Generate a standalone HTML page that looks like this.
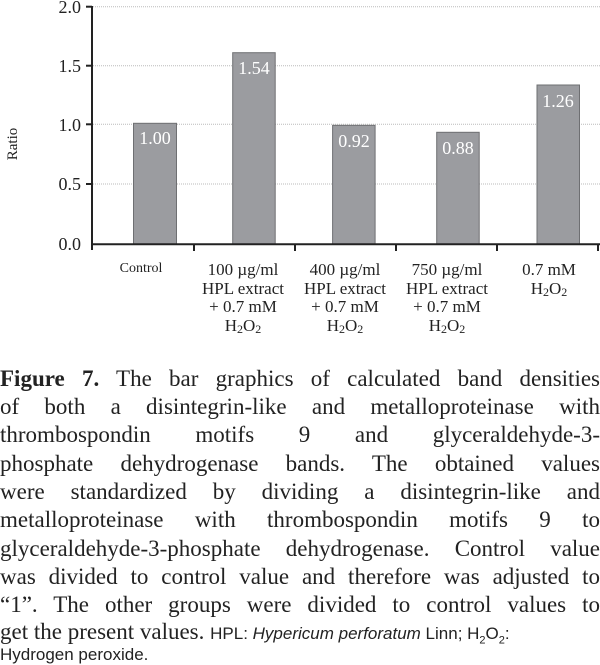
<!DOCTYPE html>
<html><head><meta charset="utf-8"><style>
body{margin:0;background:#fff;width:600px;height:665px;overflow:hidden;position:relative;font-family:"Liberation Serif",serif;color:#222}
.l{position:absolute;left:0;width:600px;font-size:23px;line-height:28px;text-align:justify;text-align-last:justify;white-space:nowrap}
.s{font-family:"Liberation Sans",sans-serif;font-size:17px}
</style></head><body>
<svg width="600" height="345" style="position:absolute;left:0;top:0" font-family="Liberation Serif, serif">
<g stroke="#bbb" stroke-width="1" stroke-dasharray="1,1">
<line x1="93" x2="600" y1="6.7" y2="6.7"/><line x1="93" x2="600" y1="65.7" y2="65.7"/><line x1="93" x2="600" y1="124.3" y2="124.3"/><line x1="93" x2="600" y1="184" y2="184"/>
</g>
<g fill="#9b9ca0" stroke="#6e6f72" stroke-width="1">
<rect x="133.5" y="123.3" width="43" height="121"/>
<rect x="232.7" y="52.7" width="42.5" height="191.6"/>
<rect x="332.6" y="125.3" width="42.5" height="119"/>
<rect x="436.7" y="132.3" width="42.5" height="112"/>
<rect x="537" y="85" width="42.5" height="159.3"/>
</g>
<g stroke="#222" stroke-width="2">
<line x1="92" y1="6" x2="92" y2="250"/><line x1="92" y1="244.3" x2="600" y2="244.3"/>
<line x1="86" y1="6.7" x2="92" y2="6.7"/><line x1="86" y1="65.7" x2="92" y2="65.7"/><line x1="86" y1="124.3" x2="92" y2="124.3"/><line x1="86" y1="184" x2="92" y2="184"/>
<line x1="194" y1="244" x2="194" y2="251"/><line x1="295" y1="244" x2="295" y2="251"/><line x1="396" y1="244" x2="396" y2="251"/><line x1="497" y1="244" x2="497" y2="251"/><line x1="598" y1="244" x2="598" y2="251"/>
</g>
<g font-size="18" text-anchor="end" fill="#222">
<text x="81" y="13">2.0</text><text x="81" y="72">1.5</text><text x="81" y="131">1.0</text><text x="81" y="190">0.5</text><text x="81" y="250">0.0</text>
</g>
<text transform="translate(17,144) rotate(-90)" font-size="15" text-anchor="middle" fill="#222">Ratio</text>
<g font-size="18" fill="#fff" text-anchor="middle">
<text x="155" y="144">1.00</text><text x="254" y="74">1.54</text><text x="354" y="147">0.92</text><text x="458" y="154">0.88</text><text x="558" y="107">1.26</text>
</g>
<g font-size="17" fill="#222" text-anchor="middle">
<text x="141" y="272" font-size="14">Control</text>
<text x="243" y="275">100 µg/ml</text><text x="243" y="294">HPL extract</text><text x="243" y="312">+ 0.7 mM</text><text x="243" y="331">H<tspan font-size="12" dy="2">2</tspan><tspan dy="-2">O</tspan><tspan font-size="12" dy="2">2</tspan></text>
<text x="345" y="275">400 µg/ml</text><text x="345" y="294">HPL extract</text><text x="345" y="312">+ 0.7 mM</text><text x="345" y="331">H<tspan font-size="12" dy="2">2</tspan><tspan dy="-2">O</tspan><tspan font-size="12" dy="2">2</tspan></text>
<text x="447" y="275">750 µg/ml</text><text x="447" y="294">HPL extract</text><text x="447" y="312">+ 0.7 mM</text><text x="447" y="331">H<tspan font-size="12" dy="2">2</tspan><tspan dy="-2">O</tspan><tspan font-size="12" dy="2">2</tspan></text>
<text x="549" y="275">0.7 mM</text><text x="549" y="294">H<tspan font-size="12" dy="2">2</tspan><tspan dy="-2">O</tspan><tspan font-size="12" dy="2">2</tspan></text>
</g>
</svg>
<div class="l" style="top:365px"><b>Figure 7.</b> The bar graphics of calculated band densities</div>
<div class="l" style="top:393px">of both a disintegrin-like and metalloproteinase with</div>
<div class="l" style="top:421px">thrombospondin motifs 9 and glyceraldehyde-3-</div>
<div class="l" style="top:450px">phosphate dehydrogenase bands. The obtained values</div>
<div class="l" style="top:478px">were standardized by dividing a disintegrin-like and</div>
<div class="l" style="top:506px">metalloproteinase with thrombospondin motifs 9 to</div>
<div class="l" style="top:535px">glyceraldehyde-3-phosphate dehydrogenase. Control value</div>
<div class="l" style="top:563px">was divided to control value and therefore was adjusted to</div>
<div class="l" style="top:591px">“1”. The other groups were divided to control values to</div>
<div class="l" style="top:618px;text-align-last:left">get the present values. <span class="s">HPL: <i>Hypericum perforatum</i> Linn; H<sub style="font-size:11px;line-height:0">2</sub>O<sub style="font-size:11px;line-height:0">2</sub>:</span></div>
<div style="position:absolute;left:0;top:645px;font-size:17px;line-height:20px;font-family:'Liberation Sans',sans-serif">Hydrogen peroxide.</div>
</body></html>
